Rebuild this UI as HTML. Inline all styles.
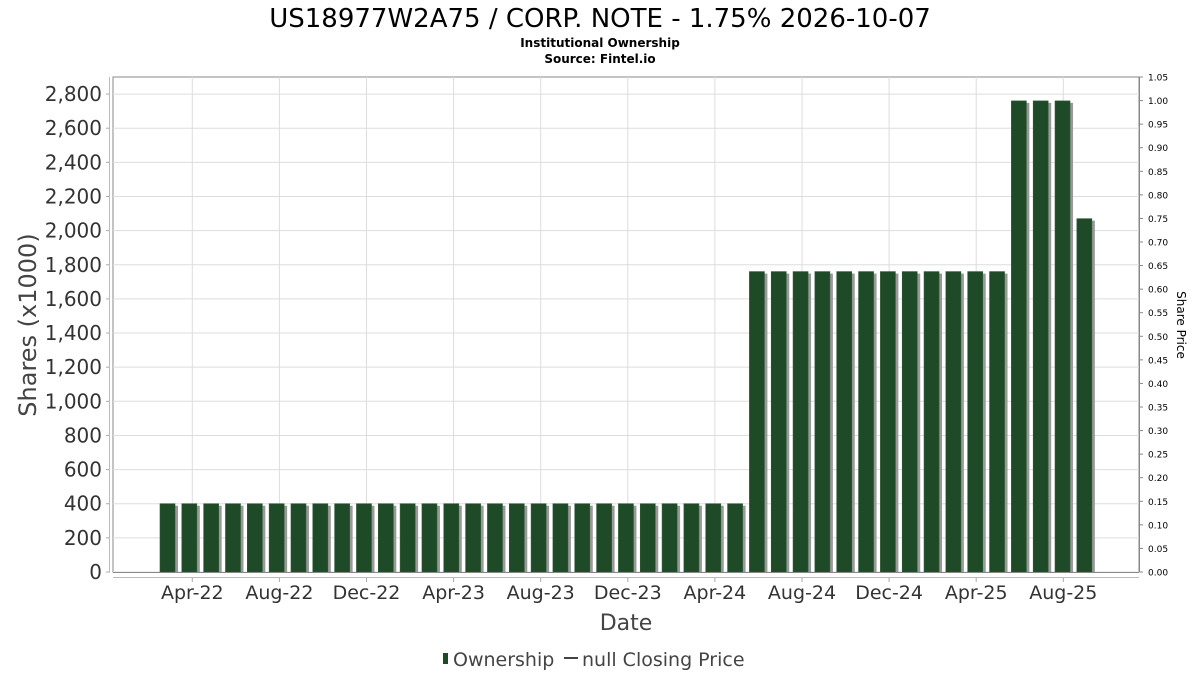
<!DOCTYPE html>
<html><head><meta charset="utf-8"><style>
body{margin:0;background:#fff;}
svg text{font-family:"DejaVu Sans","Liberation Sans",sans-serif;}
</style></head><body>
<svg id="chart" width="1200" height="675" xmlns="http://www.w3.org/2000/svg">
<rect width="1200" height="675" fill="#fff"/>
<text x="600" y="27" text-anchor="middle" font-size="26" fill="#000">US18977W2A75 / CORP. NOTE - 1.75% 2026-10-07</text>
<text x="600" y="47" text-anchor="middle" font-size="12" font-weight="bold" fill="#000">Institutional Ownership</text>
<text x="600" y="63" text-anchor="middle" font-size="12" font-weight="bold" fill="#000">Source: Fintel.io</text>
<g id="grid"></g>
<g id="bars"></g>
<g id="axes"></g>
<text x="0" y="0" transform="translate(36,325) rotate(-90)" text-anchor="middle" font-size="24" fill="#444">Shares (x1000)</text>
<text x="0" y="0" transform="translate(1177,325) rotate(90)" text-anchor="middle" font-size="12" fill="#000">Share Price</text>
<text x="626" y="630" text-anchor="middle" font-size="22" fill="#444">Date</text>
<g>
<rect x="443" y="653" width="5" height="11" fill="#1e4a28"/>
<text x="453" y="666" font-size="19" fill="#444">Ownership</text>
<line x1="564" y1="658" x2="578" y2="658" stroke="#444" stroke-width="2"/>
<text x="582" y="666" font-size="19" fill="#444">null Closing Price</text>
</g>
</svg>
<script>
const counts = [27, 12, 3, 1];
const levels = [400, 1760, 2760, 2070];
const leftTicks = [0,200,400,600,800,1000,1200,1400,1600,1800,2000,2200,2400,2600,2800];
const rightTicks = ["0.00","0.05","0.10","0.15","0.20","0.25","0.30","0.35","0.40","0.45","0.50","0.55","0.60","0.65","0.70","0.75","0.80","0.85","0.90","0.95","1.00","1.05"];
const xLabels = ["Apr-22","Aug-22","Dec-22","Apr-23","Aug-23","Dec-23","Apr-24","Aug-24","Dec-24","Apr-25","Aug-25"];
const values = [];
counts.forEach((c,k)=>{for(let i=0;i<c;i++)values.push(levels[k]);});

const L=113,R=1139,T=77,B=572;
const yL=v=>B-(v/2900)*(B-T);
const yR=v=>B-(v/1.05)*(B-T);
const xBar=i=>160+i*21.83;   // monthly bar slot
const xTick=i=>192.3+i*87.1;
const NS='http://www.w3.org/2000/svg';
function mk(p,tag,a){const e=document.createElementNS(NS,tag);for(const k in a)e.setAttribute(k,a[k]);p.appendChild(e);return e;}
const grid=document.getElementById('grid'),bars=document.getElementById('bars'),axes=document.getElementById('axes');

mk(grid,'rect',{x:L,y:T,width:R-L,height:B-T,fill:'#fff',stroke:'#888'});
leftTicks.forEach(v=>{
  const g=mk(grid,'line',{x1:L,x2:R,y1:yL(v),y2:yL(v),stroke:'#ddd'});
  
  
  const t=mk(axes,'text',{x:102,y:yL(v)+7,'text-anchor':'end','font-size':20,fill:'#333'});
  t.textContent=v.toLocaleString('en-US');
  
  
  mk(axes,'line',{x1:106,x2:110,y1:yL(v),y2:yL(v),stroke:'#aaa'});
});
xLabels.forEach((s,i)=>{
  const x=xTick(i);
  const g=mk(grid,'line',{x1:x,x2:x,y1:T,y2:B,stroke:'#ddd'});
  
  
  mk(axes,'line',{x1:x,x2:x,y1:577,y2:582,stroke:'#aaa'});
  const t=mk(axes,'text',{x:x,y:599,'text-anchor':'middle','font-size':19,fill:'#333'});
  t.textContent=s;
  
  
});
rightTicks.forEach(s=>{
  const y=yR(parseFloat(s));
  mk(axes,'line',{x1:R,x2:R+4,y1:y,y2:y,stroke:'#888'});
  const t=mk(axes,'text',{x:R+9,y:y+3.5,'font-size':9,fill:'#000'});
  t.textContent=s;
  
  
});
mk(axes,'line',{x1:109.5,x2:109.5,y1:T,y2:B,stroke:'#bbb'});
mk(axes,'line',{x1:L,x2:R,y1:577.5,y2:577.5,stroke:'#bbb'});
mk(axes,'line',{x1:R+0.5,x2:R+0.5,y1:T,y2:B,stroke:'#888'});
values.forEach((v,i)=>{
  const x=xBar(i),y=yL(v);
  const s=mk(bars,'rect',{x:x+3,y:y+2,width:15,height:B-y-2,fill:'#999'});
  
  
  const b=mk(bars,'rect',{x:x,y:y,width:15,height:B-y,fill:'#1e4a28',stroke:'#2d5a36','stroke-width':0.6});
  
  
});
mk(axes,'line',{x1:L,x2:R,y1:B+0.5,y2:B+0.5,stroke:'#888'});
</script>
</body></html>
